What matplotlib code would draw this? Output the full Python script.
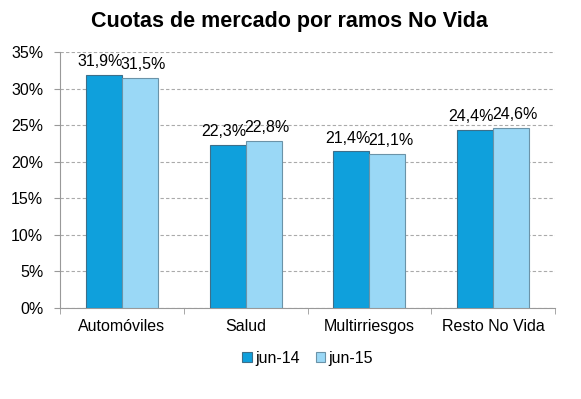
import matplotlib

matplotlib.use("Agg")
import matplotlib.pyplot as plt
import numpy as np

categories = ["Automóviles", "Salud", "Multirriesgos", "Resto No Vida"]
jun14 = [31.9, 22.3, 21.4, 24.4]
jun15 = [31.5, 22.8, 21.1, 24.6]
series_names = ["jun-14", "jun-15"]
yticks = [0, 5, 10, 15, 20, 25, 30, 35]

plt.rcParams["font.family"] = ["Liberation Sans", "DejaVu Sans"]

fig = plt.figure(figsize=(5.81, 3.99), dpi=100)
ax = fig.add_axes([60 / 581, 1 - 308 / 399, 495 / 581, 256 / 399])

x = np.arange(len(categories))
w = 0.29
b1 = ax.bar(x - w / 2, jun14, w, color="#0fa0dc", edgecolor="#3d6f8a", linewidth=0.8,
            label=series_names[0], zorder=3)
b2 = ax.bar(x + w / 2, jun15, w, color="#9ad8f6", edgecolor="#6b93a8", linewidth=0.8,
            label=series_names[1], zorder=3)

for bars, vals, dx in ((b1, jun14, -0.03), (b2, jun15, 0.03)):
    for bar, v in zip(bars, vals):
        ax.text(bar.get_x() + bar.get_width() / 2 + dx, v + 0.8,
                f"{v:.1f}%".replace(".", ","), ha="center", va="bottom", fontsize=11.5)

ax.set_xlim(-0.5, len(categories) - 0.5)
ax.set_ylim(0, 35)
ax.set_yticks(yticks)
ax.set_yticklabels([f"{t}%" for t in yticks], fontsize=11.5)
ax.set_xticks(x)
ax.set_xticklabels(categories, fontsize=11.5)
ax.tick_params(axis="x", length=0, pad=8)
ax.tick_params(axis="y", length=4, color="#999999", pad=8)
ax.set_xticks(np.arange(-0.5, len(categories), 1), minor=True)
ax.tick_params(axis="x", which="minor", length=4, color="#999999")
ax.grid(axis="y", linestyle=(0, (3, 2)), color="#aaaaaa", linewidth=0.8, zorder=0)
for s in ("top", "right"):
    ax.spines[s].set_visible(False)
ax.spines["left"].set_color("#999999")
ax.spines["bottom"].set_color("#999999")

fig.text(289 / 581, 1 - 22 / 399, "Cuotas de mercado por ramos No Vida",
         ha="center", va="center", fontsize=15.5, fontweight="bold")

ax.legend(loc="upper center", bbox_to_anchor=(0.5, -0.11), ncol=2, frameon=False,
          fontsize=11.5, handlelength=0.6, handleheight=0.6, handletextpad=0.2,
          columnspacing=1.0)

fig.savefig("out.png", dpi=100)
